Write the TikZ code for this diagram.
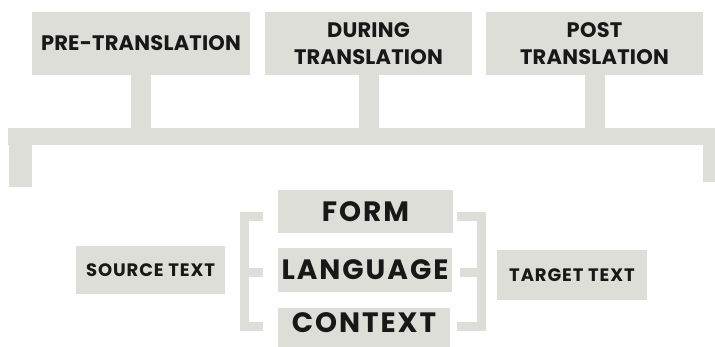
\documentclass[tikz,border=0pt]{standalone}
\usepackage{fontspec}
\setmainfont{Poppins}
\definecolor{panelgray}{RGB}{222,222,217}
\definecolor{inkblack}{RGB}{24,24,24}
\newcommand\stemwidth{20pt}
\newcommand\railwidth{17pt}
\newcommand\legwidth{23pt}
\newcommand\bracketwidth{9pt}
\newcommand\stagefont{\fontsize{21}{27}\selectfont\bfseries\addfontfeatures{LetterSpace=1}}
\newcommand\aspectfont{\fontsize{28}{30}\selectfont\bfseries\addfontfeatures{LetterSpace=7}}
\newcommand\sidefont{\fontsize{18}{20}\selectfont\bfseries\addfontfeatures{LetterSpace=5}}
\tikzset{
  panel/.style={fill=panelgray, text=inkblack, inner sep=0pt, align=center},
  rail/.style={draw=panelgray, line width=#1, line cap=butt},
  bracket/.style={draw=panelgray, line width=\bracketwidth, line cap=butt, line join=miter},
}

\begin{document}
\begin{tikzpicture}[x=1pt, y=-1pt]
    \useasboundingbox (0, 0) rectangle (715, 347) ;
    \draw (141, 43.5) node [panel, font=\stagefont, minimum width=218pt, minimum height=63pt] (pre)
       {PRE-TRANSLATION} ;
    \draw (368.5, 43.5) node [panel, font=\stagefont, minimum width=207pt, minimum height=63pt] (during)
       {DURING\\ TRANSLATION} ;
    \draw (594.5, 43.5) node [panel, font=\stagefont, minimum width=217pt, minimum height=63pt] (post)
       {POST\\ TRANSLATION} ;
    \coordinate (railL) at (8, 136.5) ;
    \coordinate (railR) at (715, 136.5) ;
    \coordinate (legL) at (20, 187) ;
    \coordinate (legR) at (713, 182) ;
    \draw [rail=\railwidth] (railL) -- (railR) ;
    \draw [rail=\stemwidth] (pre.south) -- (pre.south |- railR) ;
    \draw [rail=\stemwidth] (during.south) -- (during.south |- railR) ;
    \draw [rail=\stemwidth] (post.south) -- (post.south |- railR) ;
    \draw [rail=\legwidth] (legL |- 0, 128) -- (legL) ;
    \draw [rail=\stemwidth] (legR |- 0, 128) -- (legR) ;
    \draw (150.5, 270) node [panel, font=\sidefont, minimum width=149pt, minimum height=48pt] (source)
       {SOURCE TEXT} ;
    \draw (365.5, 211.5) node [panel, font=\aspectfont, minimum width=175pt, minimum height=43pt] (form)
       {FORM} ;
    \draw (365, 270) node [panel, font=\aspectfont, minimum width=174pt, minimum height=44pt] (language)
       {LANGUAGE} ;
    \draw (364, 330) node [panel, font=\aspectfont, minimum width=172pt, minimum height=44pt,
       text height=20pt, text depth=14pt] (context) {CONTEXT} ;
    \draw (572, 275) node [panel, font=\sidefont, minimum width=150pt, minimum height=50pt] (target)
       {TARGET TEXT} ;
    \draw [bracket] (263, 217) -- (244, 217) -- (244, 327) -- (263, 327) ;
    \draw [bracket] (244, 272.5) -- (263, 272.5) ;
    \draw [bracket] (457, 217) -- (481, 217) -- (481, 327) -- (457, 327) ;
    \draw [bracket] (481, 272.5) -- (460, 272.5) ;
\end{tikzpicture}
\end{document}
